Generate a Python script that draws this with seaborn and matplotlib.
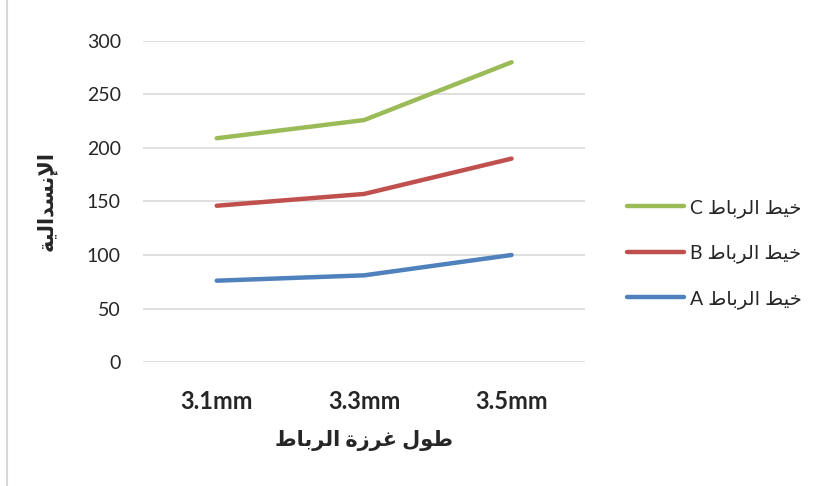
import pandas as pd
import matplotlib
matplotlib.use('Agg')
import matplotlib.pyplot as plt
from matplotlib.lines import Line2D
import seaborn as sns

# data
stitch = ['3.1mm', '3.3mm', '3.5mm']
thread_a = [76, 81, 100]
thread_b = [146, 157, 190]
thread_c = [209, 226, 280]
series_names = ['خيط الرباط A', 'خيط الرباط B', 'خيط الرباط C']
x_title = 'طول غرزة الرباط'
y_title = 'الإنسدالية'
colors = ['#4F81BD', '#C0504D', '#9BBB59']

# minimal arabic shaping (matplotlib does no shaping / bidi)
FORMS = {
    'ا': ('\uFE8D', '\uFE8E', None, None),
    'إ': ('\uFE87', '\uFE88', None, None),
    'ب': ('\uFE8F', '\uFE90', '\uFE91', '\uFE92'),
    'ة': ('\uFE93', '\uFE94', None, None),
    'خ': ('\uFEA5', '\uFEA6', '\uFEA7', '\uFEA8'),
    'د': ('\uFEA9', '\uFEAA', None, None),
    'ر': ('\uFEAD', '\uFEAE', None, None),
    'ز': ('\uFEAF', '\uFEB0', None, None),
    'س': ('\uFEB1', '\uFEB2', '\uFEB3', '\uFEB4'),
    'ط': ('\uFEC1', '\uFEC2', '\uFEC3', '\uFEC4'),
    'غ': ('\uFECD', '\uFECE', '\uFECF', '\uFED0'),
    'ل': ('\uFEDD', '\uFEDE', '\uFEDF', '\uFEE0'),
    'ن': ('\uFEE5', '\uFEE6', '\uFEE7', '\uFEE8'),
    'و': ('\uFEED', '\uFEEE', None, None),
    'ي': ('\uFEF1', '\uFEF2', '\uFEF3', '\uFEF4'),
    'لا': ('\uFEFB', '\uFEFC', None, None),
    'لإ': ('\uFEF9', '\uFEFA', None, None),
}


def shape(text):
    chars = []
    i = 0
    while i < len(text):
        if text[i:i + 2] in ('لا', 'لإ'):
            chars.append(text[i:i + 2])
            i += 2
        else:
            chars.append(text[i])
            i += 1
    out = []
    for k, ch in enumerate(chars):
        if ch not in FORMS:
            out.append(ch)
            continue
        f = FORMS[ch]
        prev = chars[k - 1] if k > 0 else None
        nxt = chars[k + 1] if k + 1 < len(chars) else None
        join_prev = prev in FORMS and FORMS[prev][2] is not None
        join_next = f[2] is not None and nxt in FORMS
        if join_prev and join_next:
            out.append(f[3])
        elif join_prev:
            out.append(f[1])
        elif join_next:
            out.append(f[2])
        else:
            out.append(f[0])
    # visual order: reverse, but keep latin runs left-to-right
    vis = ''.join(out)[::-1]
    res, run = '', ''
    for c in vis:
        if c.isascii() and c != ' ':
            run += c
        else:
            res += run[::-1] + c
            run = ''
    return res + run[::-1]


df = pd.DataFrame({'stitch': stitch * 3,
                   'value': thread_a + thread_b + thread_c,
                   'series': [n for n in series_names for _ in stitch]})
df['x'] = [stitch.index(s) for s in df['stitch']]

sns.set_style('white')
plt.rcParams['font.family'] = ['Lato', 'DejaVu Sans']

fig = plt.figure(figsize=(8.22, 4.86), dpi=100)
ax = fig.add_axes([0.174, 0.255, 0.538, 0.661])

sns.lineplot(data=df, x='x', y='value', hue='series', hue_order=series_names,
             palette=colors, linewidth=3.2, ax=ax, legend=False,
             solid_capstyle='round')

ax.set_xlim(-0.5, 2.5)
ax.set_ylim(0, 300)
ax.set_yticks(range(0, 301, 50))
ax.set_xticks(range(len(stitch)))
ax.set_xticklabels(stitch, fontsize=17, fontweight='bold')
ax.tick_params(axis='y', labelsize=14, pad=16, length=0)
ax.tick_params(axis='x', pad=20, length=0)
ax.grid(axis='y', color='#D9D9D9', linewidth=1.2)
ax.set_axisbelow(True)
for s in ax.spines.values():
    s.set_visible(False)

ax.set_xlabel(shape(x_title), fontsize=15, fontweight='bold', labelpad=12)
ax.set_ylabel(shape(y_title), fontsize=15, fontweight='bold', labelpad=22)

handles = [Line2D([], [], color=c, linewidth=3.2, solid_capstyle='round')
           for c in colors][::-1]
labels = [shape(n) for n in series_names][::-1]
fig.legend(handles, labels, loc='center left', bbox_to_anchor=(0.742, 0.478),
           frameon=False, fontsize=14, handlelength=2.9, labelspacing=1.38,
           handletextpad=0.3)

fig.add_artist(Line2D([0.009, 0.009], [0, 1], color='#D9D9D9', linewidth=1.5,
                      transform=fig.transFigure))

fig.savefig('out.png', dpi=100)
